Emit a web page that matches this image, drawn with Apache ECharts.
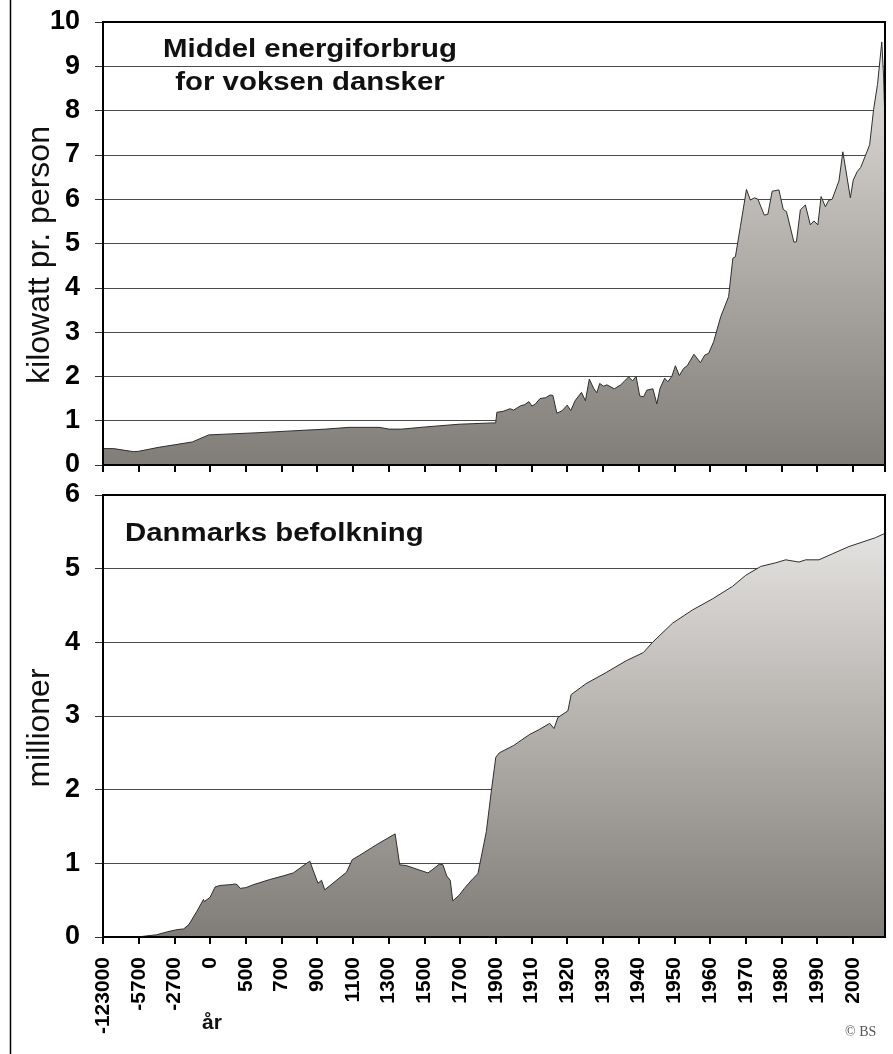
<!DOCTYPE html>
<html>
<head>
<meta charset="utf-8">
<script src="https://cdn.jsdelivr.net/npm/echarts@6/dist/echarts.min.js"></script>
<style>
html,body{margin:0;padding:0;background:#fff;}
#chart{width:893px;height:1054px;}
</style>
</head>
<body>
<div id="chart"></div>
<script>
// ---- tick positions on the (non-linear) year axis ----
const tickYears = [-123000,-5700,-2700,0,500,700,900,1100,1300,1500,1700,1900,1910,1920,1930,1940,1950,1960,1970,1980,1990,2000];
const tickLabels = ['-123000','-5700','-2700','0','500','700','900','1100','1300','1500','1700','1900','1910','1920','1930','1940','1950','1960','1970','1980','1990','2000'];
const lastYear = 2009;

// ---- energy per adult Dane (kW) ----
const energyYears = [-123000,-88000,-22000,-5700,-4000,-2600,-1350,-1200,-100,0,574,758,948,1078,1246,1302,1374,1508,1694,1880,1899.5,
  1900.3,1902,1904,1905,1907,1908,1909.3,1910.1,1911,1912.4,1914,1915.2,1916,1917.1,1918.5,1920,1921,1922.2,1924,1925.1,1926.2,1927.4,1928.3,1929.1,
  1930.2,1931.1,1933.2,1935,1936,1937.2,1938.3,1939.3,1940.3,1941.4,1942.3,1944,1945.1,1946,1947.3,1948.2,1949.3,1950.3,1951.4,1952.6,1953.6,1955.5,
  1957.3,1958.5,1959.6,1961,1963,1965.2,1966.4,1967.1,1968.5,1970.2,1971.3,1972.4,1973.4,1975.2,1976.2,1977.4,1979.3,1980.5,1981.4,1983.5,1984.2,
  1985.3,1986.7,1988.1,1989.1,1990.2,1991.1,1992.3,1993.3,1994.2,1996.1,1997.2,1999.3,2000.1,2001.2,2002.2,2003.4,2004.7,2005.8,2006.9,2008.1,2008.6,2009];
const energyKW = [0.37,0.37,0.30,0.31,0.40,0.46,0.52,0.53,0.68,0.69,0.73,0.77,0.81,0.85,0.85,0.81,0.81,0.86,0.92,0.95,0.95,
  1.19,1.21,1.27,1.24,1.34,1.36,1.43,1.33,1.37,1.50,1.52,1.58,1.57,1.17,1.22,1.35,1.23,1.45,1.64,1.45,1.94,1.73,1.63,1.84,
  1.78,1.81,1.72,1.81,1.89,1.99,1.90,2.00,1.56,1.54,1.69,1.72,1.38,1.73,1.96,1.88,2.00,2.24,2.02,2.18,2.24,2.50,
  2.31,2.48,2.52,2.78,3.35,3.80,4.67,4.70,5.38,6.22,5.98,6.03,6.00,5.64,5.66,6.18,6.21,5.77,5.72,5.03,5.04,
  5.76,5.87,5.42,5.51,5.42,6.06,5.83,5.98,6.00,6.41,7.07,6.03,6.43,6.62,6.72,6.96,7.23,8.02,8.59,9.55,8.78,7.68];

// ---- population of Denmark (millions) ----
const popYears = [-123000,-5700,-5300,-4200,-3300,-2500,-2000,-1600,-1000,-500,-440,0,70,140,280,350,380,420,500,542,634,710,766,858,868,904,924,942,
  1064,1096,1138,1230,1336,1362,1398,1520,1548,1584,1604,1625,1645,1659,1696,1724,1771,1800,1847,1875,1900,
  1901,1905,1909.5,1912.3,1915.1,1916.3,1917.4,1920.2,1921.1,1925.3,1930.9,1936.5,1941.3,1943.9,1949.5,1955.1,1960.7,1966.3,1970,1974.2,1978.4,
  1981.2,1984.9,1986.8,1990.5,1994.2,1998.9,2002.6,2006.3,2009];
const popMillions = [0,0,0.01,0.03,0.07,0.10,0.11,0.17,0.35,0.51,0.48,0.54,0.68,0.70,0.71,0.72,0.71,0.66,0.67,0.71,0.78,0.83,0.87,1.03,1.04,0.73,0.77,0.64,
  0.88,1.05,1.11,1.25,1.40,0.98,0.97,0.87,0.92,0.99,0.98,0.83,0.77,0.49,0.57,0.66,0.79,0.86,1.43,1.98,2.44,
  2.50,2.60,2.75,2.82,2.90,2.83,2.98,3.07,3.29,3.44,3.59,3.75,3.86,4.00,4.26,4.44,4.59,4.76,4.91,5.03,5.08,
  5.12,5.09,5.12,5.12,5.20,5.30,5.36,5.42,5.48];

// map a year onto the evenly spaced tick index scale
function yearToPos(y){
  const n = tickYears.length;
  if (y >= tickYears[n-1]) return (n-1) + (y - tickYears[n-1]) / (tickYears[n-1] - tickYears[n-2]);
  for (let k = 0; k < n-1; k++){
    if (y >= tickYears[k] && y <= tickYears[k+1]) return k + (y - tickYears[k]) / (tickYears[k+1] - tickYears[k]);
  }
  return 0;
}
const xMax = yearToPos(lastYear);

const FONT = 'Liberation Sans, Arial, sans-serif';
const G1 = {left:103, top:22, width:782, height:443};
const G2 = {left:103, top:495, width:782, height:442};

function areaFill(){
  return {type:'linear', x:0, y:0, x2:0, y2:1, colorStops:[
    {offset:0, color:'#e4e2e0'},
    {offset:0.5, color:'#b2aeaa'},
    {offset:1, color:'#807d79'}
  ]};
}
function xAx(gridIndex, showLabels){
  return {
    type:'value', gridIndex, min:0, max:xMax, interval:1,
    axisLine:{show:true, lineStyle:{color:'#000', width:2}},
    axisTick:{show:true, length:7, lineStyle:{color:'#000', width:2}},
    splitLine:{show:false},
    axisLabel:{
      show:showLabels, rotate:90, margin:20, color:'#000',
      fontFamily:FONT, fontWeight:'bold', fontSize:21,
      showMaxLabel:false,
      formatter:function(v){ const r=Math.round(v); return Math.abs(v-r)<1e-6 && r<tickLabels.length ? tickLabels[r] : ''; }
    }
  };
}
function yAx(gridIndex, max){
  return {
    type:'value', gridIndex, min:0, max:max, interval:1,
    axisLine:{show:true, lineStyle:{color:'#000', width:2}},
    axisTick:{show:true, length:8, lineStyle:{color:'#333', width:1}},
    splitLine:{show:true, lineStyle:{color:'#4a4a4a', width:1}},
    axisLabel:{margin:23, color:'#000', fontFamily:FONT, fontWeight:'bold', fontSize:27}
  };
}

const chart = echarts.init(document.getElementById('chart'), null, {renderer:'canvas'});
chart.setOption({
  animation:false,
  backgroundColor:'#fff',
  grid:[
    Object.assign({show:false}, G1),
    Object.assign({show:false}, G2)
  ],
  xAxis:[xAx(0,false), xAx(1,true)],
  yAxis:[yAx(0,10), yAx(1,6)],
  series:[
    {
      type:'line', xAxisIndex:0, yAxisIndex:0, showSymbol:false, silent:true,
      data: energyYears.map((y,i)=>[yearToPos(y), energyKW[i]]),
      lineStyle:{color:'#2e2e2e', width:1},
      areaStyle:{color:areaFill(), opacity:1}
    },
    {
      type:'line', xAxisIndex:1, yAxisIndex:1, showSymbol:false, silent:true,
      data: popYears.map((y,i)=>[yearToPos(y), popMillions[i]]),
      lineStyle:{color:'#2e2e2e', width:1},
      areaStyle:{color:areaFill(), opacity:1}
    }
  ],
  graphic:[
    {type:'line', z:100, shape:{x1:10.5, y1:0, x2:10.5, y2:1054}, style:{stroke:'#000', lineWidth:1.5}},
    {type:'rect', z:100, shape:{x:G1.left, y:G1.top, width:G1.width, height:G1.height}, style:{fill:null, stroke:'#000', lineWidth:2}},
    {type:'rect', z:100, shape:{x:G2.left, y:G2.top, width:G2.width, height:G2.height}, style:{fill:null, stroke:'#000', lineWidth:2}},
    {type:'text', z:100, x:310, y:50, scaleX:1.13, style:{text:'Middel energiforbrug', font:'bold 26px '+FONT, fill:'#111', align:'center', verticalAlign:'middle'}},
    {type:'text', z:100, x:310, y:83, scaleX:1.13, style:{text:'for voksen dansker', font:'bold 26px '+FONT, fill:'#111', align:'center', verticalAlign:'middle'}},
    {type:'text', z:100, x:125, y:534, scaleX:1.13, style:{text:'Danmarks befolkning', font:'bold 26px '+FONT, fill:'#111', align:'left', verticalAlign:'middle'}},
    {type:'text', z:100, x:40, y:255, rotation:Math.PI/2, style:{text:'kilowatt pr. person', font:'32px '+FONT, fill:'#111', align:'center', verticalAlign:'middle'}},
    {type:'text', z:100, x:40, y:728, rotation:Math.PI/2, style:{text:'millioner', font:'32px '+FONT, fill:'#111', align:'center', verticalAlign:'middle'}},
    {type:'text', z:100, x:212, y:1023, style:{text:'år', font:'bold 21px '+FONT, fill:'#111', align:'center', verticalAlign:'middle'}},
    {type:'text', z:100, x:845, y:1032, style:{text:'© BS', font:'14px Liberation Serif, serif', fill:'#555', align:'left', verticalAlign:'middle'}}
  ]
});
</script>
</body>
</html>
